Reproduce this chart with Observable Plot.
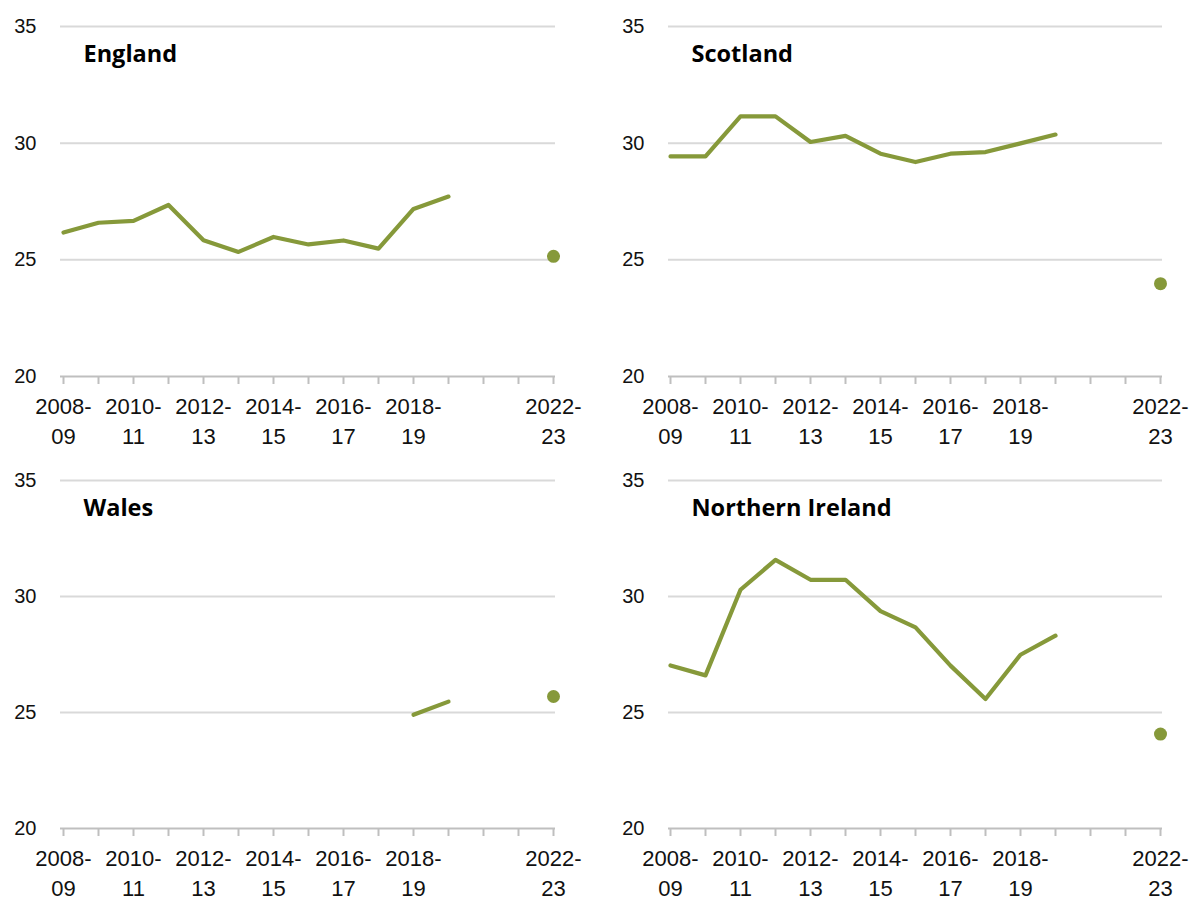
<!DOCTYPE html>
<html>
<head>
<meta charset="utf-8">
<script src="https://cdn.jsdelivr.net/npm/d3@7"></script>
<script src="https://cdn.jsdelivr.net/npm/@observablehq/plot@0.6"></script>
<style>
  html, body { margin: 0; padding: 0; background: #fff; }
  #grid { display: grid; grid-template-columns: 595px 595px; width: 1190px; }
  #grid svg { display: block; overflow: visible; }
</style>
</head>
<body>
<div id="grid"></div>
<script>
// Financial years shown on the x axis (one tick per year)
const years = ["2008-09","2009-10","2010-11","2011-12","2012-13","2013-14","2014-15",
               "2015-16","2016-17","2017-18","2018-19","2019-20","2020-21","2021-22","2022-23"];
// Years that carry a label under their tick
const tickLabels = ["2008-09","2010-11","2012-13","2014-15","2016-17","2018-19","2022-23"];
// Annual series, 2008-09 to 2019-20 (null = no figure)
const seriesYears = years.slice(0, 12);
const england  = [26.17, 26.59, 26.67, 27.35, 25.84, 25.34, 25.98, 25.66, 25.83, 25.48, 27.18, 27.71];
const scotland = [29.43, 29.43, 31.15, 31.15, 30.05, 30.31, 29.55, 29.19, 29.55, 29.62, 29.99, 30.37];
const wales    = [null, null, null, null, null, null, null, null, null, null, 24.90, 25.47];
const nireland = [27.03, 26.60, 30.29, 31.58, 30.72, 30.72, 29.37, 28.67, 27.02, 25.58, 27.49, 28.31];
// Latest single-year figure
const latestYear = "2022-23";
const latest = { England: 25.15, Scotland: 23.98, Wales: 25.69, "Northern Ireland": 24.07 };
// y axis
const yTicks = [20, 25, 30, 35];
const gridValues = [25, 30, 35];

const green = "#86993a";

const panels = [
  { name: "England", values: england, left: true, top: true },
  { name: "Scotland", values: scotland, left: false, top: true },
  { name: "Wales", values: wales, left: true, top: false },
  { name: "Northern Ireland", values: nireland, left: false, top: false }
];

function panel({ name, values, left, top }) {
  const rows = seriesYears.map((year, i) => ({ year, value: values[i] }));
  return Plot.plot({
    width: 595,
    height: top ? 452 : 445,
    marginLeft: left ? 60 : 73,
    marginRight: left ? 40 : 28,
    marginTop: top ? 26 : 28,
    marginBottom: top ? 76 : 69,
    style: { fontFamily: "'Liberation Sans', Arial, sans-serif", color: "#111", background: "#fff" },
    x: { type: "point", domain: years, padding: 0, label: null },
    y: { domain: [20, 35], label: null },
    marks: [
      Plot.ruleY(gridValues, { stroke: "#d9d9d9", strokeWidth: 2 }),
      Plot.ruleY([20], { stroke: "#bfbfbf", strokeWidth: 2 }),
      Plot.axisY({ ticks: yTicks, tickSize: 0, tickPadding: 24, fontSize: 20, fill: "#111", label: null }),
      Plot.axisX({
        ticks: years,
        tickSize: 8,
        tickPadding: 8,
        stroke: "#bfbfbf",
        strokeWidth: 2,
        fill: "#111",
        fontSize: 22,
        lineHeight: 1.36,
        label: null,
        tickFormat: d => tickLabels.includes(d) ? d.replace("-", "-\n") : ""
      }),
      Plot.line(rows, {
        x: "year", y: "value", stroke: green, strokeWidth: 4.2,
        strokeLinecap: "round", strokeLinejoin: "round"
      }),
      Plot.dot([{ year: latestYear, value: latest[name] }], {
        x: "year", y: "value", r: 6.5, fill: green, stroke: "none"
      }),
      Plot.text([name], {
        frameAnchor: "top-left", textAnchor: "start", lineAnchor: "top",
        dx: 23, dy: 19, fontSize: 23.5, fontWeight: 700,
        fontFamily: "'Open Sans', sans-serif", fill: "#000"
      })
    ]
  });
}

const grid = document.getElementById("grid");
for (const p of panels) grid.appendChild(panel(p));
</script>
</body>
</html>
